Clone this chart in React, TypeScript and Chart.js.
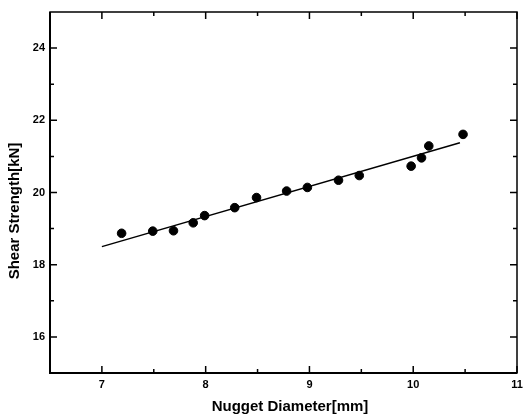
import React, { useEffect, useRef } from "react";
import { Chart, registerables } from "chart.js";

Chart.register(...registerables);

const diameters = [7.19, 7.49, 7.69, 7.88, 7.99, 8.28, 8.49, 8.78, 8.98, 9.28, 9.48, 9.98, 10.08, 10.15, 10.48];
const strengths = [18.87, 18.93, 18.94, 19.16, 19.36, 19.58, 19.86, 20.04, 20.14, 20.34, 20.47, 20.73, 20.96, 21.29, 21.61];
const fitX = [7.0, 10.45];
const fitY = [18.5, 21.38];
const xTicks = [7, 8, 9, 10, 11];
const xMinor = [7.5, 8.5, 9.5, 10.5];
const yTicks = [16, 18, 20, 22, 24];
const yMinor = [17, 19, 21, 23];
const xTitle = "Nugget Diameter[mm]";
const yTitle = "Shear Strength[kN]";

const FONT = "'Liberation Sans', Arial, sans-serif";

const framePlugin = {
  id: "frame",
  afterDraw(chart: any) {
    const { ctx, chartArea: a, scales } = chart;
    const xs = scales.x;
    const ys = scales.y;
    ctx.save();
    ctx.strokeStyle = "#000";
    ctx.lineWidth = 1.5;
    ctx.strokeRect(a.left, a.top, a.right - a.left, a.bottom - a.top);
    ctx.lineWidth = 2;
    ctx.beginPath();
    ctx.moveTo(a.left, a.top);
    ctx.lineTo(a.left, a.bottom);
    ctx.lineTo(a.right, a.bottom);
    ctx.stroke();
    ctx.lineWidth = 1.5;
    ctx.beginPath();
    const tx = (v: number, len: number) => {
      const p = xs.getPixelForValue(v);
      ctx.moveTo(p, a.bottom);
      ctx.lineTo(p, a.bottom - len);
      ctx.moveTo(p, a.top);
      ctx.lineTo(p, a.top + len);
    };
    const ty = (v: number, len: number) => {
      const p = ys.getPixelForValue(v);
      ctx.moveTo(a.left, p);
      ctx.lineTo(a.left + len, p);
      ctx.moveTo(a.right, p);
      ctx.lineTo(a.right - len, p);
    };
    xTicks.forEach((v) => tx(v, 7));
    xMinor.forEach((v) => tx(v, 4));
    yTicks.forEach((v) => ty(v, 7));
    yMinor.forEach((v) => ty(v, 4));
    ctx.stroke();
    ctx.fillStyle = "#000";
    ctx.font = `bold 15px ${FONT}`;
    ctx.textAlign = "center";
    ctx.textBaseline = "middle";
    ctx.fillText(xTitle, 290, 407);
    ctx.translate(15, 211);
    ctx.rotate(-Math.PI / 2);
    ctx.fillText(yTitle, 0, 0);
    ctx.restore();
  },
};

export default function App() {
  const ref = useRef<HTMLCanvasElement>(null);
  useEffect(() => {
    const chart = new Chart(ref.current as HTMLCanvasElement, {
      type: "scatter",
      data: {
        datasets: [
          {
            label: "data",
            data: diameters.map((x, i) => ({ x, y: strengths[i] })),
            backgroundColor: "#000",
            borderColor: "#000",
            pointRadius: 4.3,
            pointHoverRadius: 4.3,
          },
          {
            label: "fit",
            type: "line",
            data: fitX.map((x, i) => ({ x, y: fitY[i] })),
            borderColor: "#000",
            borderWidth: 1.5,
            pointRadius: 0,
            showLine: true,
            fill: false,
          } as any,
        ],
      },
      options: {
        responsive: false,
        animation: false,
        events: [],
        layout: { padding: { left: 0, top: 12, right: 6, bottom: 0 } },
        plugins: { legend: { display: false }, tooltip: { enabled: false } },
        scales: {
          x: {
            type: "linear",
            min: 6.5,
            max: 11,
            grid: { display: false, drawTicks: false },
            border: { display: false },
            afterBuildTicks: (s: any) => {
              s.ticks = xTicks.map((v) => ({ value: v }));
            },
            afterFit: (s: any) => {
              s.height = 44;
              s.paddingLeft = 0;
              s.paddingRight = 0;
            },
            ticks: {
              padding: 5,
              color: "#000",
              font: { family: FONT, size: 11, weight: "bold" },
              maxRotation: 0,
            },
          },
          y: {
            type: "linear",
            min: 15,
            max: 25,
            grid: { display: false, drawTicks: false },
            border: { display: false },
            afterBuildTicks: (s: any) => {
              s.ticks = yTicks.map((v) => ({ value: v }));
            },
            afterFit: (s: any) => {
              s.width = 50;
              s.paddingTop = 0;
              s.paddingBottom = 0;
            },
            ticks: {
              padding: 5,
              color: "#000",
              font: { family: FONT, size: 11, weight: "bold" },
            },
          },
        },
      },
      plugins: [framePlugin],
    });
    return () => chart.destroy();
  }, []);
  return (
    <div style={{ position: "fixed", left: 0, top: 0, width: 523, height: 417, background: "#fff" }}>
      <canvas ref={ref} width={523} height={417} />
    </div>
  );
}
